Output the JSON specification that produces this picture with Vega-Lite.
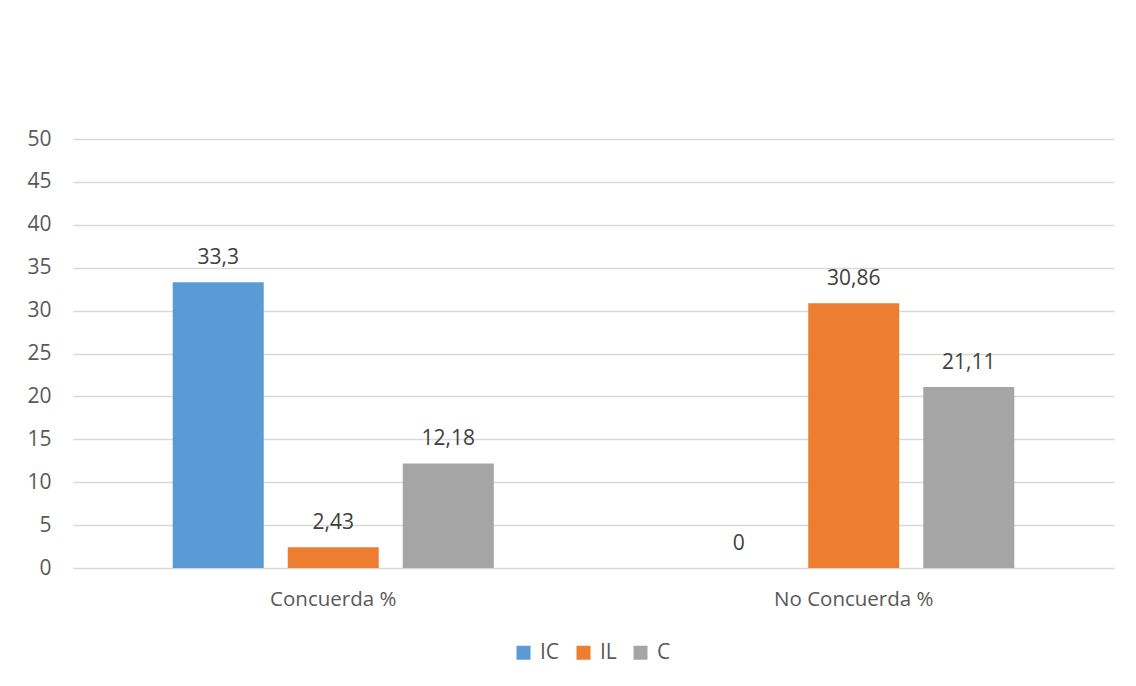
{
  "$schema": "https://vega.github.io/schema/vega-lite/v6.json",
  "width": 1041,
  "height": 429,
  "autosize": "none",
  "padding": {"left": 73, "top": 139, "right": 22, "bottom": 118},
  "background": "white",
  "data": {
    "values": [
      {"grupo": "Concuerda %", "serie": "IC", "valor": 33.3},
      {"grupo": "Concuerda %", "serie": "IL", "valor": 2.43},
      {"grupo": "Concuerda %", "serie": "C", "valor": 12.18},
      {"grupo": "No Concuerda %", "serie": "IC", "valor": 0},
      {"grupo": "No Concuerda %", "serie": "IL", "valor": 30.86},
      {"grupo": "No Concuerda %", "serie": "C", "valor": 21.11}
    ]
  },
  "config": {
    "locale": {"number": {"decimal": ",", "thousands": ".", "grouping": [3], "currency": ["", " €"]}},
    "font": "Open Sans",
    "view": {"stroke": null}
  },
  "encoding": {
    "x": {
      "field": "grupo", "type": "nominal", "sort": ["Concuerda %", "No Concuerda %"],
      "scale": {"paddingInner": 0, "paddingOuter": 0},
      "axis": {"title": null, "labelAngle": 0, "ticks": false, "domain": false, "labelFontSize": 20.5, "labelColor": "#595959", "labelPadding": 21, "labelFont": "Open Sans"}
    },
    "xOffset": {
      "field": "serie", "type": "nominal", "sort": ["IC", "IL", "C"],
      "scale": {"paddingInner": 0.2087, "paddingOuter": 0.867}
    },
    "y": {
      "field": "valor", "type": "quantitative",
      "scale": {"domain": [0, 50], "nice": false},
      "axis": {"title": null, "values": [0,5,10,15,20,25,30,35,40,45,50], "ticks": false, "domain": false, "gridColor": "#d9d9d9", "gridWidth": 1.3, "labelFontSize": 21, "labelColor": "#595959", "labelPadding": 22, "labelFont": "Open Sans"}
    }
  },
  "layer": [
    {
      "mark": {"type": "bar"},
      "encoding": {
        "color": {
          "field": "serie", "type": "nominal", "sort": ["IC", "IL", "C"],
          "scale": {"domain": ["IC", "IL", "C"], "range": ["#5b9bd5", "#ed7d31", "#a5a5a5"]},
          "legend": {
            "title": null, "orient": "none", "direction": "horizontal",
            "legendX": 440, "legendY": 503,
            "symbolType": "square", "symbolSize": 196, "symbolStrokeWidth": 0,
            "labelFontSize": 21, "labelColor": "#595959", "labelFont": "Open Sans",
            "labelOffset": 6, "columnPadding": 13
          }
        }
      }
    },
    {
      "mark": {"type": "text", "baseline": "alphabetic", "dy": -18, "fontSize": 21, "color": "#404040", "font": "Open Sans"},
      "encoding": {
        "text": {"field": "valor", "type": "quantitative", "format": "~r"}
      }
    }
  ]
}
